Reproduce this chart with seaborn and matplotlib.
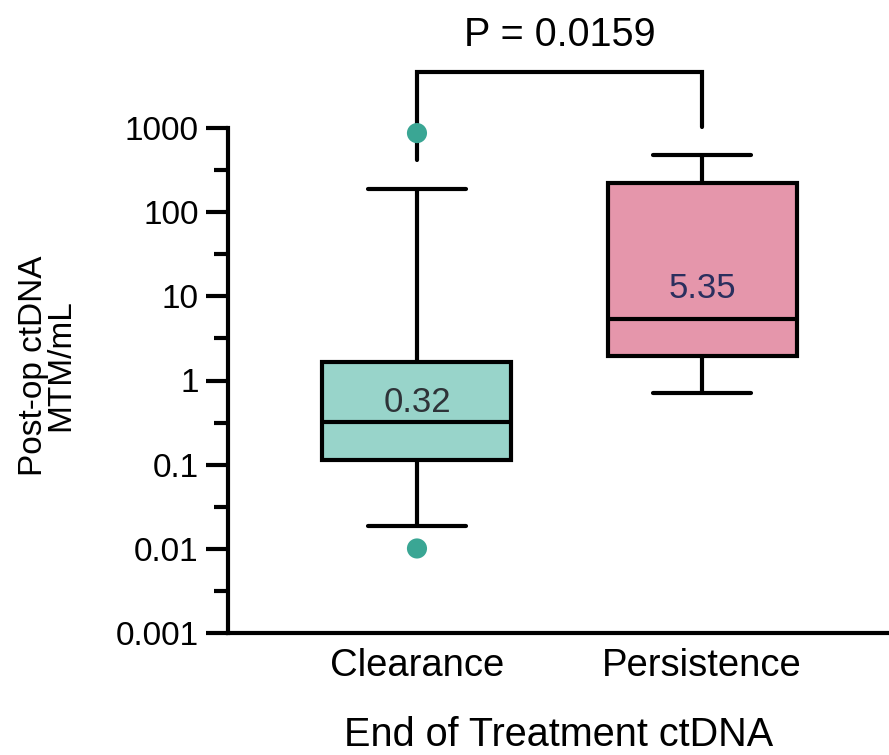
import matplotlib
matplotlib.use("Agg")
import matplotlib.pyplot as plt
import seaborn as sns
import numpy as np
import pandas as pd
from matplotlib.ticker import FixedLocator, NullFormatter

# ---- data ----
categories = ["Clearance", "Persistence"]
medians = [0.32, 5.35]
q1 = [0.115, 1.95]
q3 = [1.65, 225]
whisker_lo = [0.0185, 0.72]
whisker_hi = [190, 480]
outlier_group = ["Clearance", "Clearance"]
outlier_values = [870, 0.0101]
median_labels = ["0.32", "5.35"]
p_text = "P = 0.0159"
ytick_values = [0.001, 0.01, 0.1, 1, 10, 100, 1000]
ytick_labels = ["0.001", "0.01", "0.1", "1", "10", "100", "1000"]

box_colors = ["#98d4ca", "#e596ab"]
outlier_color = "#3aa694"
median_text_colors = ["#2e3338", "#2b2f5e"]
median_label_offsets = [7, 15]  # points above median line (baseline)

sns.set_style("ticks", {"axes.edgecolor": "black", "xtick.color": "black",
                        "ytick.color": "black", "text.color": "black",
                        "axes.labelcolor": "black"})
plt.rcParams["font.family"] = ["Liberation Sans", "DejaVu Sans"]

fig = plt.figure(figsize=(8.89, 7.55), dpi=100)
ax = fig.add_axes([228 / 889, 1 - 633 / 755, 1 - 228 / 889, (633 - 128) / 755])

stats = []
for i, c in enumerate(categories):
    stats.append(dict(label=c, med=medians[i], q1=q1[i], q3=q3[i],
                      whislo=whisker_lo[i], whishi=whisker_hi[i], fliers=[]))

lw = 3.0
bp = ax.bxp(stats, positions=range(len(categories)), widths=0.663,
            patch_artist=True, showfliers=False,
            boxprops=dict(linewidth=lw, edgecolor="black"),
            medianprops=dict(linewidth=lw, color="black"),
            whiskerprops=dict(linewidth=lw, color="black"),
            capprops=dict(linewidth=lw, color="black"),
            capwidths=0.345)
for patch, col in zip(bp["boxes"], box_colors):
    patch.set_facecolor(col)

out_df = pd.DataFrame({"group": outlier_group, "value": outlier_values})
out_df["pos"] = out_df["group"].map({c: i for i, c in enumerate(categories)})
sns.scatterplot(data=out_df, x="pos", y="value", color=outlier_color, s=210,
                edgecolor="none", ax=ax, zorder=5, clip_on=False, legend=False)

ax.set_yscale("log")
ax.set_ylim(0.001, 1000)
ax.set_xlim(-0.663, 1.656)

# median labels
for i, (m, lab) in enumerate(zip(medians, median_labels)):
    ax.annotate(lab, xy=(i, m), xytext=(0, median_label_offsets[i]),
                textcoords="offset points", ha="center", va="baseline",
                fontsize=25, color=median_text_colors[i])

# significance bracket
y_top = 10 ** 3.67
ax.plot([0, 0, 1, 1], [420, y_top, y_top, 1040], color="black", lw=lw,
        clip_on=False, solid_capstyle="round", solid_joinstyle="miter")
ax.text(0.5, 10 ** 3.98, p_text, ha="center", va="baseline", fontsize=28.5)

ax.yaxis.set_major_locator(FixedLocator(ytick_values))
ax.set_yticklabels(ytick_labels)
ax.yaxis.set_minor_locator(FixedLocator([10 ** (k + 0.5) for k in range(-3, 3)]))
ax.yaxis.set_minor_formatter(NullFormatter())
ax.tick_params(axis="y", which="major", length=16, width=3, labelsize=24, pad=5)
ax.tick_params(axis="y", which="minor", length=10, width=3)
ax.set_xticks(range(len(categories)))
ax.set_xticklabels(categories)
ax.tick_params(axis="x", length=0, labelsize=27.5, pad=11)

for s in ["left", "bottom"]:
    ax.spines[s].set_linewidth(3)
sns.despine(ax=ax)

ax.set_xlabel("End of Treatment ctDNA", fontsize=28.5, labelpad=23)
ax.set_ylabel("Post-op ctDNA\nMTM/mL", fontsize=24, linespacing=0.88)
ax.yaxis.set_label_coords(-0.229, 0.53)

fig.savefig("out.png", dpi=100)
